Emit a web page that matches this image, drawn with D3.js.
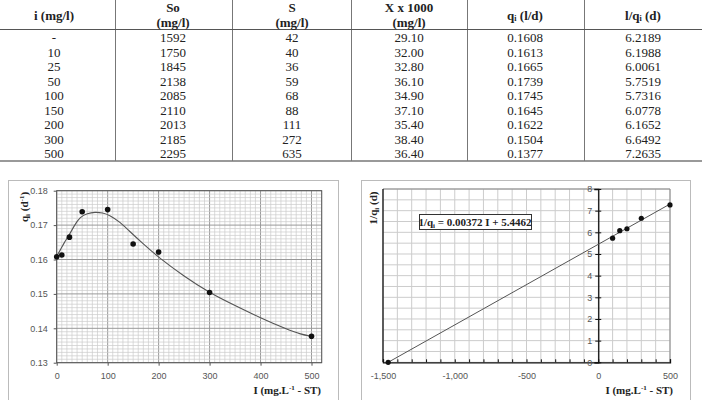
<!DOCTYPE html>
<html>
<head>
<meta charset="utf-8">
<script src="https://cdn.jsdelivr.net/npm/d3@7"></script>
<style>
  body { margin: 0; background: #fff; }
  svg { display: block; }
  .cell { font-family: "Liberation Serif", "Times New Roman", serif; font-size: 13px; fill: #222; }
  .head { font-weight: bold; }
  .tick-lbl { font-family: "Liberation Sans", Arial, sans-serif; font-size: 9px; fill: #555; }
  .title { font-family: "Liberation Serif", "Times New Roman", serif; font-size: 11px; font-weight: bold; fill: #222; }
</style>
</head>
<body>
<div id="chart"></div>
<script>
// table columns
const colI = ['-', '10', '25', '50', '100', '150', '200', '300', '500'];
const colSo = ['1592', '1750', '1845', '2138', '2085', '2110', '2013', '2185', '2295'];
const colS = ['42', '40', '36', '59', '68', '88', '111', '272', '635'];
const colX = ['29.10', '32.00', '32.80', '36.10', '34.90', '37.10', '35.40', '38.40', '36.40'];
const colQi = ['0.1608', '0.1613', '0.1665', '0.1739', '0.1745', '0.1645', '0.1622', '0.1504', '0.1377'];
const colInv = ['6.2189', '6.1988', '6.0061', '5.7519', '5.7316', '6.0778', '6.1652', '6.6492', '7.2635'];

// chart 1 : qi vs I
const doseI = [0, 10, 25, 50, 100, 150, 200, 300, 500];
const qiVals = [0.1608, 0.1613, 0.1665, 0.1739, 0.1745, 0.1645, 0.1622, 0.1504, 0.1377];
const fitI = [0, 7, 15, 23, 35, 46, 60, 75, 90, 104, 125, 140, 170, 200, 250, 300, 350, 400, 450, 480, 500];
const fitQ = [0.161, 0.1627, 0.1650, 0.1667, 0.1700, 0.1724, 0.1734, 0.1738, 0.1736, 0.1729, 0.1708, 0.1686, 0.1645, 0.1606, 0.1551, 0.1503, 0.1466, 0.1430, 0.1398, 0.1382, 0.1377];
const ticks1X = [0, 100, 200, 300, 400, 500];
const ticks1Y = [0.13, 0.14, 0.15, 0.16, 0.17, 0.18];

// chart 2 : 1/qi vs I
const linI = [100, 150, 200, 300, 500];
const linY = [5.7316, 6.0778, 6.1652, 6.6492, 7.2635];
const interceptPt = [-1464, 0];
const lineEnds = [[-1464, 0], [500, 7.306]];
const ticks2X = [-1500, -1000, -500, 0, 500];
const ticks2Y = [0, 1, 2, 3, 4, 5, 6, 7, 8];

const width = 702, height = 400;
const svg = d3.select('#chart').append('svg')
  .attr('width', width).attr('height', height);

// ---------- table ----------
const colEdges = [0, 115, 232, 351, 467, 584, 702];
const colCenters = [54, 173, 292, 409, 525, 643];
const rowY = d3.range(9).map(i => 37.5 + i * 14.5);

const tbl = svg.append('g');
colEdges.slice(1, -1).forEach(x => {
  tbl.append('line').attr('x1', x + 0.5).attr('x2', x + 0.5).attr('y1', 0).attr('y2', 161)
    .attr('stroke', '#777').attr('stroke-width', 1);
});
tbl.append('line').attr('x1', 0).attr('x2', width).attr('y1', 29.5).attr('y2', 29.5)
  .attr('stroke', '#555').attr('stroke-width', 1.2);
tbl.append('line').attr('x1', 0).attr('x2', width).attr('y1', 161).attr('y2', 161)
  .attr('stroke', '#777').attr('stroke-width', 1.6);

const headText = (x, y, parts) => {
  const t = tbl.append('text').attr('class', 'cell head').attr('x', x).attr('y', y)
    .attr('text-anchor', 'middle').attr('dominant-baseline', 'central');
  parts.forEach(p => {
    const s = t.append('tspan').text(p.t);
    if (p.sub) s.attr('font-size', '8px').attr('dy', 3);
    if (p.back) s.attr('dy', -3);
  });
};
headText(colCenters[0], 15, [{ t: 'i (mg/l)' }]);
headText(colCenters[1], 7, [{ t: 'So' }]);
headText(colCenters[1], 22, [{ t: '(mg/l)' }]);
headText(colCenters[2], 7, [{ t: 'S' }]);
headText(colCenters[2], 22, [{ t: '(mg/l)' }]);
headText(colCenters[3], 7, [{ t: 'X x 1000' }]);
headText(colCenters[3], 22, [{ t: '(mg/l)' }]);
headText(colCenters[4], 15, [{ t: 'q' }, { t: 'i', sub: true }, { t: ' (l/d)', back: true }]);
headText(colCenters[5], 15, [{ t: 'l/q' }, { t: 'i', sub: true }, { t: ' (d)', back: true }]);

[colI, colSo, colS, colX, colQi, colInv].forEach((col, c) => {
  tbl.selectAll(null).data(col).enter().append('text')
    .attr('class', 'cell')
    .attr('x', colCenters[c])
    .attr('y', (d, i) => rowY[i])
    .attr('text-anchor', 'middle')
    .attr('dominant-baseline', 'central')
    .text(d => d);
});

// ---------- chart 1 ----------
svg.append('rect').attr('x', 8.5).attr('y', 180.5).attr('width', 330).attr('height', 240)
  .attr('fill', 'none').attr('stroke', '#bbb');

const x1 = d3.scaleLinear().domain([0, 520]).range([56.7, 321.7]);
const y1 = d3.scaleLinear().domain([0.13, 0.18]).range([362.7, 190.7]);
const g1 = svg.append('g');

d3.range(0, 521, 10).forEach(v => {
  g1.append('line').attr('x1', x1(v)).attr('x2', x1(v)).attr('y1', y1.range()[0]).attr('y2', y1.range()[1])
    .attr('stroke', v % 100 === 0 ? '#999' : '#ccc').attr('stroke-width', v % 100 === 0 ? 1 : 0.7);
});
d3.range(130, 181, 1).forEach(v => {
  g1.append('line').attr('x1', x1.range()[0]).attr('x2', x1.range()[1]).attr('y1', y1(v / 1000)).attr('y2', y1(v / 1000))
    .attr('stroke', v % 10 === 0 ? '#999' : '#ccc').attr('stroke-width', v % 10 === 0 ? 1 : 0.7);
});
g1.append('rect').attr('x', x1.range()[0]).attr('y', y1.range()[1])
  .attr('width', x1.range()[1] - x1.range()[0]).attr('height', y1.range()[0] - y1.range()[1])
  .attr('fill', 'none').attr('stroke', '#555');

const ax1x = g1.append('g').attr('transform', `translate(0,${y1.range()[0]})`)
  .call(d3.axisBottom(x1).tickValues(ticks1X).tickSize(3).tickPadding(7));
const ax1y = g1.append('g').attr('transform', `translate(${x1.range()[0]},0)`)
  .call(d3.axisLeft(y1).tickValues(ticks1Y).tickFormat(d3.format('.2f')).tickSize(3).tickPadding(6));
[ax1x, ax1y].forEach(a => {
  a.select('.domain').remove();
  a.selectAll('line').attr('stroke', '#555');
  a.selectAll('text').attr('class', 'tick-lbl').attr('font-family', null).attr('font-size', null).attr('fill', null);
});

g1.append('path')
  .datum(fitI.map((v, i) => [v, fitQ[i]]))
  .attr('d', d3.line().x(d => x1(d[0])).y(d => y1(d[1])).curve(d3.curveBasis))
  .attr('fill', 'none').attr('stroke', '#555').attr('stroke-width', 1.1);

g1.selectAll('circle').data(doseI).enter().append('circle')
  .attr('cx', d => x1(d)).attr('cy', (d, i) => y1(qiVals[i])).attr('r', 2.8).attr('fill', '#111');

const t1y = g1.append('text').attr('class', 'title')
  .attr('transform', 'translate(28,207) rotate(-90)').attr('text-anchor', 'middle');
t1y.append('tspan').text('q');
t1y.append('tspan').text('i').attr('font-size', '7px').attr('dy', 2);
t1y.append('tspan').text(' (d').attr('dy', -2);
t1y.append('tspan').text('-1').attr('font-size', '7px').attr('dy', -4);
t1y.append('tspan').text(')').attr('dy', 4);

const xTitle = (g, xr) => {
  const t = g.append('text').attr('class', 'title').attr('x', xr).attr('y', 394).attr('text-anchor', 'end');
  t.append('tspan').text('I (mg.L');
  t.append('tspan').text('-1').attr('font-size', '7px').attr('dy', -4);
  t.append('tspan').text(' - ST)').attr('dy', 4);
};
xTitle(g1, 321);

// ---------- chart 2 ----------
svg.append('rect').attr('x', 361.5).attr('y', 180.5).attr('width', 329).attr('height', 240)
  .attr('fill', 'none').attr('stroke', '#bbb');

const x2 = d3.scaleLinear().domain([-1500, 500]).range([383, 670]);
const y2 = d3.scaleLinear().domain([0, 8]).range([362.3, 189]);
const g2 = svg.append('g');

d3.range(-1500, 501, 100).forEach(v => {
  g2.append('line').attr('x1', x2(v)).attr('x2', x2(v)).attr('y1', y2.range()[0]).attr('y2', y2.range()[1])
    .attr('stroke', '#ccc');
});
d3.range(0, 8.01, 0.5).forEach(v => {
  g2.append('line').attr('x1', x2.range()[0]).attr('x2', x2.range()[1]).attr('y1', y2(v)).attr('y2', y2(v))
    .attr('stroke', '#ccc');
});
// frame: top/right grey, left/bottom black
g2.append('line').attr('x1', x2.range()[0]).attr('x2', x2.range()[1]).attr('y1', y2(8)).attr('y2', y2(8)).attr('stroke', '#888');
g2.append('line').attr('x1', x2.range()[1]).attr('x2', x2.range()[1]).attr('y1', y2(0)).attr('y2', y2(8)).attr('stroke', '#888');
g2.append('line').attr('x1', x2.range()[0]).attr('x2', x2.range()[0]).attr('y1', y2(0)).attr('y2', y2(8)).attr('stroke', '#111').attr('stroke-width', 1.3);

const fmtX = d => d3.format(',')(d).replace('\u2212', '-');
const ax2x = g2.append('g').attr('transform', `translate(0,${y2.range()[0]})`)
  .call(d3.axisBottom(x2).tickValues(d3.range(-1500, 501, 100)).tickSize(-3).tickPadding(10)
    .tickFormat(d => ticks2X.includes(d) ? fmtX(d) : ''));
const ax2y = g2.append('g').attr('transform', `translate(${x2(0)},0)`)
  .call(d3.axisLeft(y2).tickValues(ticks2Y).tickSize(4).tickPadding(2));
ax2y.selectAll('.tick line').attr('x2', 3).attr('x1', -3);
[ax2x, ax2y].forEach(a => {
  a.select('.domain').attr('stroke', '#111').attr('stroke-width', 1.3);
  a.selectAll('line').attr('stroke', '#111');
  a.selectAll('text').attr('class', 'tick-lbl').attr('font-family', null).attr('font-size', null).attr('fill', null);
});

g2.append('path')
  .datum(lineEnds)
  .attr('d', d3.line().x(d => x2(d[0])).y(d => y2(d[1])))
  .attr('fill', 'none').attr('stroke', '#555').attr('stroke-width', 1);

g2.selectAll('circle.pt').data(linI).enter().append('circle').attr('class', 'pt')
  .attr('cx', d => x2(d)).attr('cy', (d, i) => y2(linY[i])).attr('r', 2.6).attr('fill', '#111');
g2.append('circle').attr('cx', x2(interceptPt[0])).attr('cy', y2(interceptPt[1])).attr('r', 2.6).attr('fill', '#111');

const t2y = g2.append('text').attr('class', 'title')
  .attr('transform', 'translate(377,208) rotate(-90)').attr('text-anchor', 'middle');
t2y.append('tspan').text('1/q');
t2y.append('tspan').text('i').attr('font-size', '7px').attr('dy', 2);
t2y.append('tspan').text(' (d)').attr('dy', -2);

// equation box
const eq = g2.append('g');
eq.append('rect').attr('x', 419.5).attr('y', 214.5).attr('width', 112).attr('height', 15)
  .attr('fill', '#fff').attr('stroke', '#333');
const eqT = eq.append('text').attr('class', 'title').attr('x', 475).attr('y', 226).attr('text-anchor', 'middle');
eqT.append('tspan').text('1/q');
eqT.append('tspan').text('i').attr('font-size', '7px').attr('dy', 2);
eqT.append('tspan').text(' = 0.00372 I + 5.4462').attr('dy', -2);

xTitle(g2, 673);
</script>
</body>
</html>
